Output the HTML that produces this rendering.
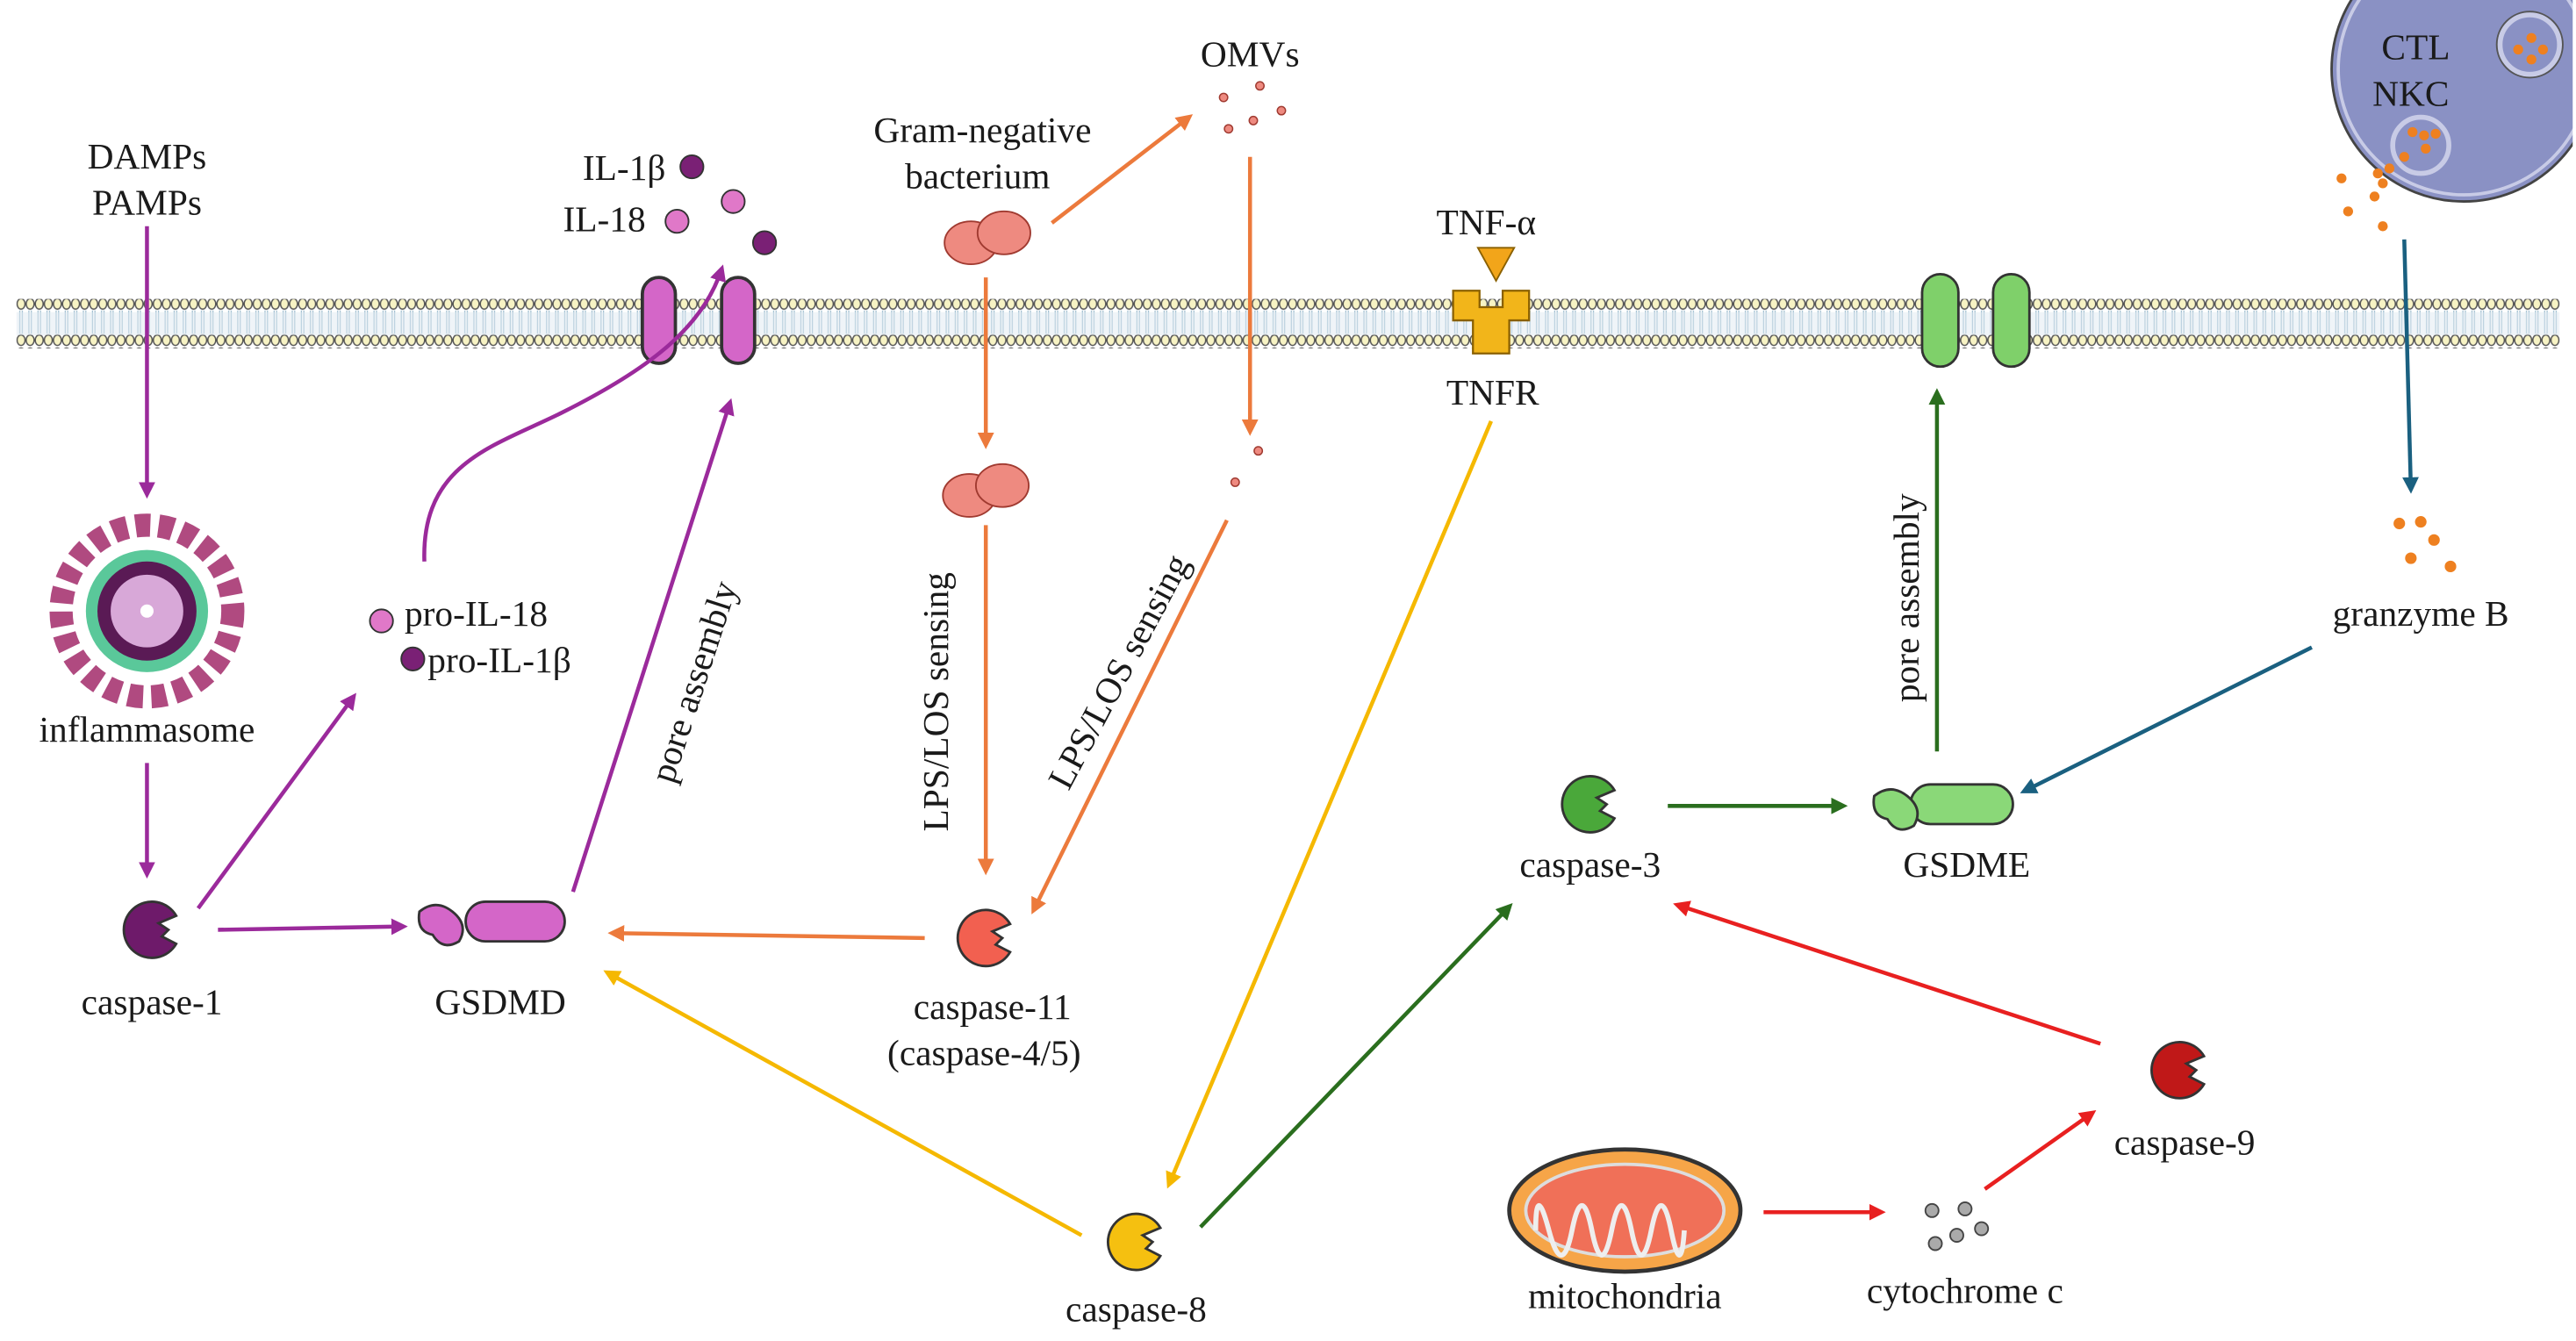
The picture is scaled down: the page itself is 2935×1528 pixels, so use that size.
<!DOCTYPE html>
<html><head><meta charset="utf-8">
<style>
html,body{margin:0;padding:0;background:#fff;}
svg{display:block;}
text{font-family:"Liberation Serif",serif;font-size:22px;fill:#1a1a1a;}
</style></head>
<body>
<svg width="2935" height="1528" viewBox="0 0 1560 812" preserveAspectRatio="none" xmlns="http://www.w3.org/2000/svg">
<defs>
<pattern id="heads" x="10" y="0" width="5.5" height="30" patternUnits="userSpaceOnUse">
<ellipse cx="2.75" cy="4" rx="2.4" ry="3.2" fill="#f7f3c4" stroke="#555" stroke-width="0.8"/>
<ellipse cx="2.75" cy="26" rx="2.4" ry="3.2" fill="#f7f3c4" stroke="#555" stroke-width="0.8"/>
<line x1="2" y1="8" x2="2" y2="22" stroke="#8fb3c8" stroke-width="0.6"/>
<line x1="3.5" y1="8" x2="3.5" y2="22" stroke="#8fb3c8" stroke-width="0.6"/>
</pattern>
<marker id="mp" markerWidth="10" markerHeight="10" refX="7" refY="5" orient="auto" markerUnits="userSpaceOnUse"><path d="M0,0 L10,5 L0,10 z" fill="#9b2a9b"/></marker>
<marker id="mo" markerWidth="10" markerHeight="10" refX="7" refY="5" orient="auto" markerUnits="userSpaceOnUse"><path d="M0,0 L10,5 L0,10 z" fill="#ec7a3c"/></marker>
<marker id="my" markerWidth="10" markerHeight="10" refX="7" refY="5" orient="auto" markerUnits="userSpaceOnUse"><path d="M0,0 L10,5 L0,10 z" fill="#f5b800"/></marker>
<marker id="mg" markerWidth="10" markerHeight="10" refX="7" refY="5" orient="auto" markerUnits="userSpaceOnUse"><path d="M0,0 L10,5 L0,10 z" fill="#2a6e1e"/></marker>
<marker id="mr" markerWidth="10" markerHeight="10" refX="7" refY="5" orient="auto" markerUnits="userSpaceOnUse"><path d="M0,0 L10,5 L0,10 z" fill="#e82020"/></marker>
<marker id="mb" markerWidth="10" markerHeight="10" refX="7" refY="5" orient="auto" markerUnits="userSpaceOnUse"><path d="M0,0 L10,5 L0,10 z" fill="#1a6080"/></marker>
</defs>

<rect x="10" y="181" width="1540" height="30" fill="url(#heads)"/>
<rect x="10" y="189" width="1540" height="14" fill="#dfeaf2" opacity="0.5"/>

<circle cx="1492" cy="42" r="80" fill="#8a91c4" stroke="#444" stroke-width="1.5"/>
<circle cx="1492" cy="42" r="76" fill="none" stroke="#c8cbe6" stroke-width="2"/>
<rect x="1558" y="0" width="10" height="140" fill="#fff"/>
<circle cx="1532" cy="27" r="18" fill="#8a91c4" stroke="#c8cbe6" stroke-width="3"/>
<circle cx="1532" cy="27" r="20" fill="none" stroke="#555" stroke-width="1"/>
<circle cx="1466" cy="88" r="17" fill="#8a91c4" stroke="#c8cbe6" stroke-width="3"/>
<g fill="#ee8020">
<circle cx="1525" cy="30" r="3"/><circle cx="1540" cy="30" r="3"/><circle cx="1533" cy="36" r="3"/><circle cx="1533" cy="23" r="3"/>
<circle cx="1461" cy="80" r="3"/><circle cx="1468" cy="82" r="3"/><circle cx="1475" cy="81" r="3"/><circle cx="1469" cy="90" r="3"/><circle cx="1456" cy="95" r="3"/>
<circle cx="1447" cy="102" r="3"/><circle cx="1440" cy="105" r="3"/><circle cx="1443" cy="111" r="3"/><circle cx="1418" cy="108" r="3"/><circle cx="1438" cy="119" r="3"/><circle cx="1422" cy="128" r="3"/><circle cx="1443" cy="137" r="3"/>
</g>
<text x="1463" y="36" text-anchor="middle">CTL</text>
<text x="1460" y="64" text-anchor="middle">NKC</text>

<rect x="389" y="168" width="20" height="52" rx="10" fill="#d466c8" stroke="#333" stroke-width="2"/>
<rect x="437" y="168" width="20" height="52" rx="10" fill="#d466c8" stroke="#333" stroke-width="2"/>
<rect x="1164" y="166" width="22" height="56" rx="11" fill="#7fd06a" stroke="#333" stroke-width="1.5"/>
<rect x="1207" y="166" width="22" height="56" rx="11" fill="#7fd06a" stroke="#333" stroke-width="1.5"/>
<path d="M880,176 h16 v10 h14 v-10 h16 v18 h-12 v20 h-22 v-20 h-12z" fill="#f2b51a" stroke="#8a6000" stroke-width="1.2"/>
<path d="M895,150 h22 l-11,20z" fill="#f2a51a" stroke="#8a6000" stroke-width="1"/>

<circle cx="419" cy="101" r="7" fill="#7a2075" stroke="#333"/>
<circle cx="410" cy="134" r="7" fill="#e078c8" stroke="#333"/>
<circle cx="444" cy="122" r="7" fill="#e078c8" stroke="#333"/>
<circle cx="463" cy="147" r="7" fill="#7a2075" stroke="#333"/>
<circle cx="231" cy="376" r="7" fill="#e078c8" stroke="#333"/>
<circle cx="250" cy="399" r="7" fill="#7a2075" stroke="#333"/>

<g fill="#ee8a80" stroke="#a03a30" stroke-width="1">
<ellipse cx="588" cy="147" rx="16" ry="13"/><ellipse cx="608" cy="141" rx="16" ry="13"/>
<ellipse cx="587" cy="300" rx="16" ry="13"/><ellipse cx="607" cy="294" rx="16" ry="13"/>
</g>
<g fill="#ee8a80" stroke="#a03a30" stroke-width="0.8">
<circle cx="741" cy="59" r="2.5"/><circle cx="763" cy="52" r="2.5"/><circle cx="759" cy="73" r="2.5"/><circle cx="776" cy="67" r="2.5"/><circle cx="744" cy="78" r="2.5"/>
<circle cx="762" cy="273" r="2.5"/><circle cx="748" cy="292" r="2.5"/>
</g>

<circle cx="89" cy="370" r="52" fill="none" stroke="#b04a80" stroke-width="14" stroke-dasharray="9 5"/>
<circle cx="89" cy="370" r="37" fill="#5ac89a"/>
<circle cx="89" cy="370" r="30" fill="#5a1a55"/>
<circle cx="89" cy="370" r="22" fill="#d8a8d8"/>
<circle cx="89" cy="370" r="4" fill="#fff"/>

<g stroke="#333" stroke-width="1.5">
<path d="M106.7,554.5 A17,17 0 1 0 106.7,571.5 L98,567 L102,563 L96,559 z" fill="#6e1a6a"/>
<path d="M611.7,559.5 A17,17 0 1 0 611.7,576.5 L603,572 L607,568 L601,564 z" fill="#f26050"/>
<path d="M977.7,478.5 A17,17 0 1 0 977.7,495.5 L969,491 L973,487 L967,483 z" fill="#4aa83a"/>
<path d="M1334.7,639.5 A17,17 0 1 0 1334.7,656.5 L1326,652 L1330,648 L1324,644 z" fill="#c01818"/>
<path d="M702.7,743.5 A17,17 0 1 0 702.7,760.5 L694,756 L698,752 L692,748 z" fill="#f5c010"/>
</g>
<g stroke="#333" stroke-width="1.5" fill="#d466c8">
<rect x="282" y="546" width="60" height="24" rx="12"/>
<path d="M254,552 q10,-8 20,0 q10,8 4,18 q-10,6 -16,-4 q-10,-2 -8,-14z"/>
</g>
<g stroke="#333" stroke-width="1.5" fill="#8ad878">
<rect x="1157" y="475" width="62" height="24" rx="12"/>
<path d="M1135,482 q10,-8 20,0 q10,8 4,18 q-10,6 -16,-4 q-10,-2 -8,-14z"/>
</g>

<ellipse cx="984" cy="733" rx="70" ry="37" fill="#f6a548" stroke="#333" stroke-width="2.5"/>
<ellipse cx="984" cy="733" rx="60" ry="28" fill="#f07058" stroke="#ddd" stroke-width="2"/>
<path d="M930,745 q0,-30 8,0 q8,30 14,0 q6,-30 12,0 q6,30 12,0 q6,-30 12,0 q6,30 12,0 q6,-30 12,0 q6,30 8,0" fill="none" stroke="#eee" stroke-width="3"/>
<g fill="#aaa" stroke="#444" stroke-width="1">
<circle cx="1170" cy="733" r="4"/><circle cx="1190" cy="732" r="4"/><circle cx="1185" cy="748" r="4"/><circle cx="1200" cy="744" r="4"/><circle cx="1172" cy="753" r="4"/>
</g>

<g fill="none" stroke-width="2.4">
<path d="M89,137 V299" stroke="#9b2a9b" marker-end="url(#mp)"/>
<path d="M89,462 V529" stroke="#9b2a9b" marker-end="url(#mp)"/>
<path d="M120,550 L214,422" stroke="#9b2a9b" marker-end="url(#mp)"/>
<path d="M132,563 L244,561" stroke="#9b2a9b" marker-end="url(#mp)"/>
<path d="M257,340 C255,280 300,270 340,250 C390,225 425,200 437,163" stroke="#9b2a9b" marker-end="url(#mp)"/>
<path d="M347,540 L442,244" stroke="#9b2a9b" marker-end="url(#mp)"/>
<path d="M597,168 V269" stroke="#ec7a3c" marker-end="url(#mo)"/>
<path d="M597,318 V527" stroke="#ec7a3c" marker-end="url(#mo)"/>
<path d="M637,135 L720,71" stroke="#ec7a3c" marker-end="url(#mo)"/>
<path d="M757,95 V261" stroke="#ec7a3c" marker-end="url(#mo)"/>
<path d="M743,315 L626,551" stroke="#ec7a3c" marker-end="url(#mo)"/>
<path d="M560,568 L371,565" stroke="#ec7a3c" marker-end="url(#mo)"/>
<path d="M903,255 L708,717" stroke="#f5b800" marker-end="url(#my)"/>
<path d="M655,748 L368,589" stroke="#f5b800" marker-end="url(#my)"/>
<path d="M727,743 L914,549" stroke="#2a6e1e" marker-end="url(#mg)"/>
<path d="M1010,488 H1116" stroke="#2a6e1e" marker-end="url(#mg)"/>
<path d="M1173,455 V238" stroke="#2a6e1e" marker-end="url(#mg)"/>
<path d="M1272,632 L1016,548" stroke="#e82020" marker-end="url(#mr)"/>
<path d="M1068,734 H1139" stroke="#e82020" marker-end="url(#mr)"/>
<path d="M1202,720 L1267,674" stroke="#e82020" marker-end="url(#mr)"/>
<path d="M1456,145 L1460,296" stroke="#1a6080" marker-end="url(#mb)"/>
<path d="M1400,392 L1226,479" stroke="#1a6080" marker-end="url(#mb)"/>
</g>
<g fill="#ee8020"><circle cx="1453" cy="317" r="3.5"/><circle cx="1466" cy="316" r="3.5"/><circle cx="1474" cy="327" r="3.5"/><circle cx="1460" cy="338" r="3.5"/><circle cx="1484" cy="343" r="3.5"/></g>

<g text-anchor="middle">
<text x="89" y="102">DAMPs</text>
<text x="89" y="130">PAMPs</text>
<text x="378" y="109">IL-1β</text>
<text x="366" y="140">IL-18</text>
<text x="595" y="86">Gram-negative</text>
<text x="592" y="114">bacterium</text>
<text x="757" y="40">OMVs</text>
<text x="900" y="142">TNF-α</text>
<text x="904" y="245">TNFR</text>
<text x="89" y="449">inflammasome</text>
<text x="1466" y="379">granzyme B</text>
<text x="963" y="531">caspase-3</text>
<text x="1191" y="531">GSDME</text>
<text x="92" y="614">caspase-1</text>
<text x="303" y="614">GSDMD</text>
<text x="601" y="617">caspase-11</text>
<text x="596" y="645">(caspase-4/5)</text>
<text x="1323" y="699">caspase-9</text>
<text x="688" y="800">caspase-8</text>
<text x="984" y="792">mitochondria</text>
<text x="1190" y="789">cytochrome c</text>
<text transform="translate(427,415) rotate(-72)">pore assembly</text>
<text transform="translate(574,425) rotate(-90)">LPS/LOS sensing</text>
<text transform="translate(684,410) rotate(-62)">LPS/LOS sensing</text>
<text transform="translate(1162,362) rotate(-90)">pore assembly</text>
</g>
<g text-anchor="start">
<text x="245" y="379">pro-IL-18</text>
<text x="259" y="407">pro-IL-1β</text>
</g>
</svg>
</body></html>
